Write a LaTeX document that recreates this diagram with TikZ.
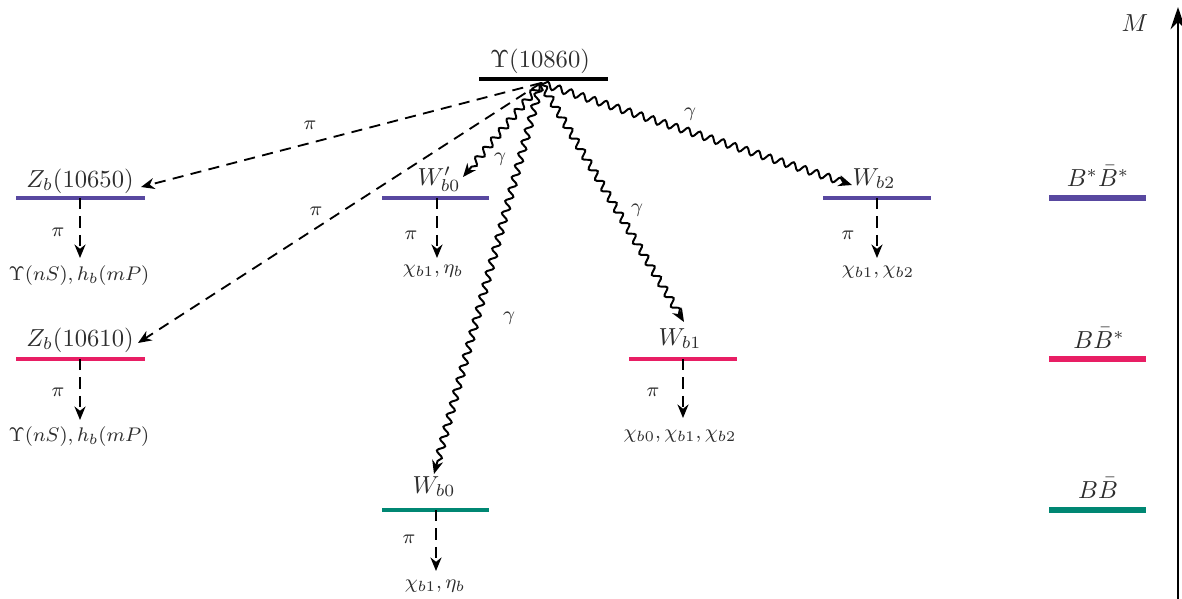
\documentclass[tikz,border=0pt]{standalone}
\usetikzlibrary{arrows.meta,decorations.pathmorphing}
\definecolor{lvA}{RGB}{88,72,160}
\definecolor{lvB}{RGB}{232,30,100}
\definecolor{lvC}{RGB}{0,135,115}
\definecolor{txt}{RGB}{45,45,45}
\begin{document}
\begin{tikzpicture}[x=0.406pt,y=-0.406pt,
  lvl/.style={line width=1.4pt},
  refbar/.style={line width=2.1pt},
  lab/.style={text=txt,inner sep=0pt,anchor=base},
  prod/.style={text=txt,font=\footnotesize,inner sep=0pt,anchor=base},
  sml/.style={text=txt,font=\footnotesize,inner sep=0pt},
  tip/.style={-{Stealth[length=5.5pt,width=4.5pt]}},
  pidash/.style={tip,dash pattern=on 4.5pt off 3pt,line width=0.75pt},
  photon/.style={tip,line width=0.8pt,decorate,decoration={snake,amplitude=1.4pt,segment length=5pt,post length=3pt,pre length=1pt}},
]
\useasboundingbox (0,0) rectangle (1182,599);

% levels
\draw[lvl,line width=1.5pt] (479,79) -- (608,79);
\draw[lvl,lvA] (16,198) -- (145,198);
\draw[lvl,lvA] (382,198) -- (489,198);
\draw[lvl,lvA] (823,198) -- (931,198);
\draw[lvl,lvB] (16,359) -- (145,359);
\draw[lvl,lvB] (629,359) -- (737,359);
\draw[lvl,lvC] (382,510) -- (489,510);
\draw[refbar,lvA] (1049,198) -- (1146,198);
\draw[refbar,lvB] (1049,359) -- (1146,359);
\draw[refbar,lvC] (1049,510) -- (1146,510);

% level labels
\node[lab] (ups) at (540,67) {$\Upsilon(10860)$};
\node[lab] (zA) at (80,187) {$Z_b(10650)$};
\node[lab] (wp0) at (439,185) {$W'_{b0}$};
\node[lab] (w2) at (874,185) {$W_{b2}$};
\node[lab] (zB) at (80,346) {$Z_b(10610)$};
\node[lab] (w1) at (680,345) {$W_{b1}$};
\node[lab] (w0) at (434,493) {$W_{b0}$};
\node[lab] (bsbs) at (1098,186) {$B^*\bar B^*$};
\node[lab] (bbs) at (1099,348) {$B\bar B^*$};
\node[lab] (bb) at (1098,498) {$B\bar B$};

% axis
\coordinate (axb) at (1178,599);
\coordinate (axt) at (1178,7);
\draw[line width=1.2pt,-{Stealth[length=9pt,width=6pt]}] (axb) -- (axt);
\node[lab] (m) at (1135,31) {$M$};

% source point and end points
\coordinate (src) at (541,83);
\coordinate (eZA) at (141,187);
\coordinate (eZB) at (138,343);
\coordinate (eWp0) at (463,177);
\coordinate (eW0) at (434,474);
\coordinate (eW1) at (684,322);
\coordinate (eW2) at (852,185);

\draw[pidash] (src) -- (eZA);
\draw[pidash] (src) -- (eZB);
\draw[photon] (src) -- (eWp0);
\draw[photon] (src) -- (eW0);
\draw[photon] (src) -- (eW1);
\draw[photon] (src) -- (eW2);

\node[sml] (p1) at (310,125) {$\pi$};
\node[sml] (p2) at (316,211) {$\pi$};
\node[sml] (g1) at (500,159) {$\gamma$};
\node[sml] (g2) at (509,318) {$\gamma$};
\node[sml] (g3) at (637,210) {$\gamma$};
\node[sml] (g4) at (690,114) {$\gamma$};

% decays
\coordinate (dZA) at (80,198);   \coordinate (tZA) at (80,258);
\coordinate (dWp0) at (437,198); \coordinate (tWp0) at (437,258);
\coordinate (dW2) at (877,198);  \coordinate (tW2) at (877,258);
\coordinate (dZB) at (80,359);   \coordinate (tZB) at (80,420);
\coordinate (dW1) at (683,359);  \coordinate (tW1) at (683,418);
\coordinate (dW0) at (436,510);  \coordinate (tW0) at (436,571);
\draw[pidash] (dZA) -- (tZA);
\draw[pidash] (dWp0) -- (tWp0);
\draw[pidash] (dW2) -- (tW2);
\draw[pidash] (dZB) -- (tZB);
\draw[pidash] (dW1) -- (tW1);
\draw[pidash] (dW0) -- (tW0);

\node[sml] (q1) at (58,232) {$\pi$};
\node[sml] (q2) at (411,235) {$\pi$};
\node[sml] (q3) at (848,235) {$\pi$};
\node[sml] (q4) at (58,392) {$\pi$};
\node[sml] (q5) at (653,392) {$\pi$};
\node[sml] (q6) at (409,539) {$\pi$};

\node[prod] (r1) at (79,280) {$\Upsilon(nS),h_b(mP)$};
\node[prod] (r2) at (433,273) {$\chi_{b1},\eta_b$};
\node[prod] (r3) at (878,274) {$\chi_{b1},\chi_{b2}$};
\node[prod] (r4) at (79,441) {$\Upsilon(nS),h_b(mP)$};
\node[prod] (r5) at (680,438) {$\chi_{b0},\chi_{b1},\chi_{b2}$};
\node[prod] (r6) at (435,588) {$\chi_{b1},\eta_b$};
\end{tikzpicture}
\end{document}
